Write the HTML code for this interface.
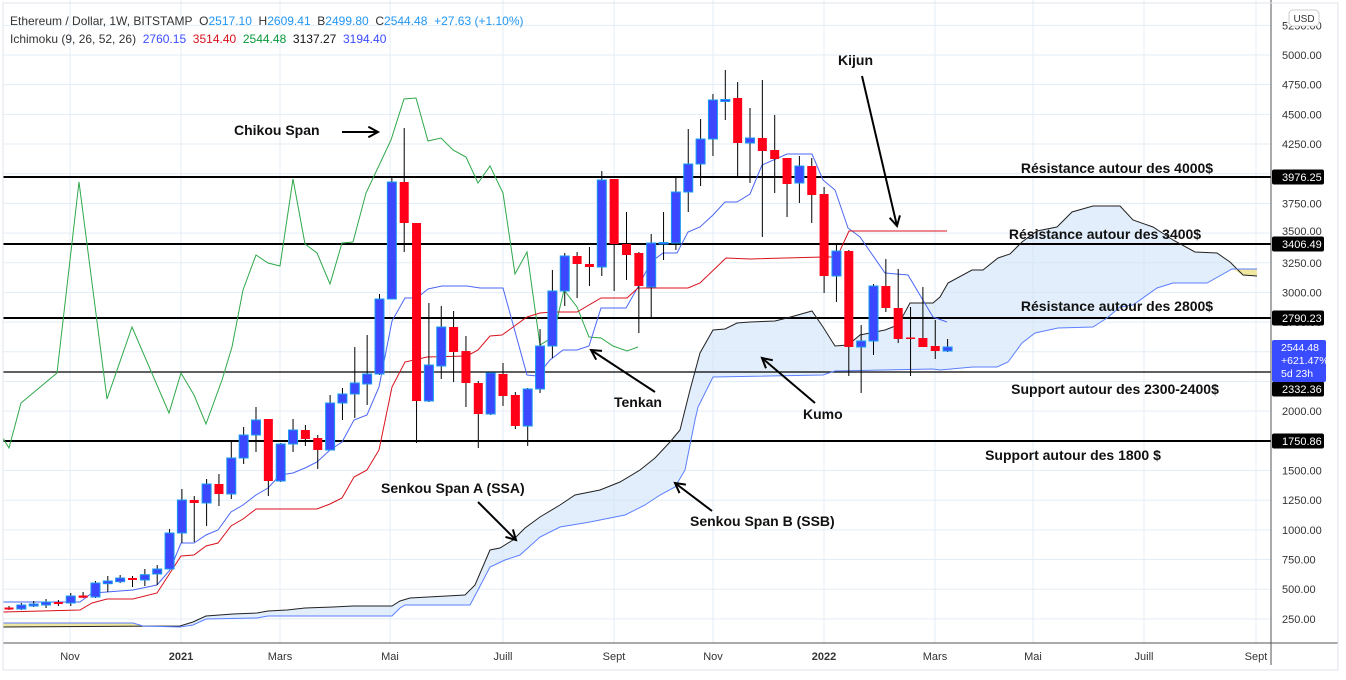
<!DOCTYPE html>
<html><head><meta charset="utf-8">
<style>
html,body{margin:0;padding:0;background:#fff;}
body{width:1346px;height:675px;overflow:hidden;font-family:"Liberation Sans",sans-serif;}
svg text{font-family:"Liberation Sans",sans-serif;}
</style></head>
<body>
<svg id="c" width="1346" height="675" viewBox="0 0 1346 675" xmlns="http://www.w3.org/2000/svg">
<rect x="0" y="0" width="1346" height="675" fill="#fff"/>
<g id="grid" stroke="#e3edf6" stroke-width="1"></g>
<g id="cloud"></g>
<g id="hl"></g>
<g id="lines" fill="none"></g>
<g id="candles"></g>
<g id="ann"></g>
<g id="axis"></g>
</svg>
<script>
var NS="http://www.w3.org/2000/svg";
function el(p,t,a,txt){var e=document.createElementNS(NS,t);for(var k in a)e.setAttribute(k,a[k]);if(txt!==undefined)e.textContent=txt;document.getElementById(p).appendChild(e);return e;}
function Y(p){return 55+(5000-p)*0.11872;}
for(var p=250;p<=5250;p+=250){var y=Y(p);el('grid','line',{x1:3,x2:1271,y1:y,y2:y});}
var months=[[70,'Nov'],[181,'2021'],[280,'Mars'],[390,'Mai'],[503,'Juill'],[614,'Sept'],[713,'Nov'],[824,'2022'],[935,'Mars'],[1033,'Mai'],[1144,'Juill'],[1256,'Sept']];
months.forEach(function(m){el('grid','line',{x1:m[0],x2:m[0],y1:0,y2:643});});
function pts(a){return a.map(function(q){return q[0]+','+q[1];}).join(' ');}
var SSA=[[3,627],[180,626],[193,622],[206,616],[233,614],[257,613],[268,611],[287,610],[305,608],[333,607],[353,606],[392,606],[400,601],[410,598],[465,595],[475,585],[490,550],[500,548],[513,540],[525,528],[540,517],[560,505],[575,495],[600,490],[620,482],[640,470],[655,458],[670,442],[680,430],[690,390],[700,353],[713,330],[725,329],[737,323],[750,322],[775,321],[787,318],[812,311],[823,327],[835,346],[848,345],[860,335],[885,330],[898,325],[910,303],[933,303],[940,297],[948,283],[972,270],[983,270],[998,258],[1010,254],[1022,242],[1037,231],[1057,227],[1072,212],[1093,206],[1120,206],[1133,220],[1153,227],[1173,240],[1195,252],[1217,253],[1230,262],[1243,275],[1257,276]];
var SSB=[[3,623],[133,623],[143,626],[180,627],[193,625],[206,619],[257,618],[268,616],[392,616],[400,608],[405,605],[470,605],[478,590],[490,567],[505,560],[520,555],[540,537],[560,527],[590,522],[625,515],[645,505],[660,495],[675,487],[685,470],[695,420],[698,407],[713,377],[823,375],[835,371],[883,370],[933,369],[940,370],[973,367],[997,367],[1008,362],[1022,343],[1035,333],[1058,328],[1093,327],[1107,318],[1120,307],[1133,305],[1157,288],[1173,283],[1207,283],[1232,269],[1257,269]];
el('cloud','polygon',{points:pts(SSA.concat(SSB.slice().reverse())),fill:'#cfe2f8','fill-opacity':'0.6'});
el('cloud','polygon',{points:'3,623 133,623 143,626 180,627 180,626 3,627',fill:'#f3e58a','fill-opacity':'0.8'});
el('cloud','polygon',{points:'1232,269 1257,269 1257,276 1243,275',fill:'#f3e58a','fill-opacity':'0.8'});
el('lines','polyline',{points:pts(SSA),stroke:'#222','stroke-width':1});
el('lines','polyline',{points:pts(SSB),stroke:'#5b7fff','stroke-width':1});
[[177,2],[244,2],[318,2],[372,1.2],[441,2]].forEach(function(h){el('hl','line',{x1:3,x2:1271,y1:h[0],y2:h[0],stroke:'#000','stroke-width':h[1]});});
var CH=[[3,438],[9,448],[21,403],[57,373],[79,182],[107,399],[132,327],[169,413],[181,373],[194,395],[206,424],[222,380],[232,347],[243,290],[256,255],[268,263],[280,266],[293,179],[305,244],[317,253],[330,284],[342,243],[353,242],[366,193],[391,140],[404,99],[416,98],[428,141],[441,138],[453,150],[466,157],[478,183],[490,166],[503,193],[515,274],[527,252],[540,345],[553,337],[564,290],[577,307],[589,337],[601,338],[613,346],[627,351],[638,347]];
el('lines','polyline',{points:pts(CH),stroke:'#2fa84a','stroke-width':1});
var TK=[[3,602],[80,602],[92,593],[107,592],[133,590],[157,585],[170,570],[181,543],[194,543],[206,535],[218,530],[231,512],[243,505],[256,495],[268,488],[280,475],[293,473],[305,468],[317,462],[330,450],[342,442],[354,420],[367,415],[379,387],[392,321],[405,298],[417,298],[428,289],[442,286],[467,286],[480,288],[503,288],[527,375],[537,376],[550,360],[563,350],[577,350],[589,346],[601,308],[626,308],[638,287],[651,262],[663,253],[677,253],[688,232],[700,227],[713,215],[725,202],[737,202],[750,194],[762,165],[787,154],[812,154],[823,180],[835,190],[848,228],[860,237],[885,273],[908,275],[933,317],[947,322]];
el('lines','polyline',{points:pts(TK),stroke:'#4a66f5','stroke-width':1});
var KJ=[[3,612],[80,610],[92,603],[107,599],[133,599],[157,593],[170,573],[181,556],[194,555],[206,546],[218,543],[231,526],[243,519],[256,509],[317,509],[330,504],[342,498],[354,477],[367,470],[379,450],[392,387],[405,362],[427,357],[467,356],[478,350],[490,336],[502,335],[527,317],[540,313],[552,312],[577,312],[601,298],[627,298],[638,288],[688,288],[700,283],[726,258],[750,259],[823,257],[837,257],[849,231],[947,231]];
el('lines','polyline',{points:pts(KJ),stroke:'#d9111c','stroke-width':1});
var C=[['d',607.5,609.5,606,610],['u',605,609,603,610],['u',604,606,601,607],['u',602,605,599,608],['d',602,604,600,606],['u',596,603,593,606],['d',595.5,597.7,592,598],['u',583,597,581,598],['u',581,583.7,576,592],['u',578,581.7,575,583],['d',578,580,576,587],['u',574.7,580,569,586],['u',569,574,565,585],['u',533,569,529,569],['u',500,533,489,543],['d',500,503,496,542],['u',484,503,479,526],['d',484,494,474,506],['u',458,494,440,499],['u',435,458,427,464],['u',420,435,407,452],['d',419,481,419,496],['u',444,481,443,482],['u',430,444,419,452],['d',430,439,425,446],['d',438,450,435,469],['u',403,450,395,450],['u',394,403,388,420],['u',383,394,347,418],['u',374,384,335,405],['u',299,374,294,375],['u',182,299,176,299],['d',182,223,128,252],['d',223,401,223,443],['u',365,401,303,402],['u',327,366,306,379],['d',327,352,311,382],['d',351,383,336,407],['d',383,414,381,448],['u',373,414,373,415],['d',374,396,363,406],['d',395,426,392,429],['u',389,426,388,446],['u',346,389,329,393],['u',291,346,270,358],['u',256,291,253,306],['d',256,264,252,298],['d',264,267,247,286],['u',180,267,171,276],['d',179,244,179,291],['d',244,255,212,280],['d',253,286,252,333],['u',243,287,234,317],['u',242.5,244,212,260],['u',192,243,177,250],['u',164,192,129,212],['u',139,164,119,186],['u',100,139,94,156],['u',99.5,101.5,70,120],['d',98,143,82,178],['u',138,143,108,183],['d',138,151,80,237],['d',150,159,115,193],['d',158,184,158,217],['u',166,183,156,203],['d',166,195,158,223],['d',194,276,187,293],['u',251,276,244,302],['d',251,347,250,376],['u',341,347,325,393],['u',286,341,284,355],['d',286,308,259,312],['d',308,339,269,343],['d',337.5,339,307,376],['d',338,347,287,347],['d',346,351,320,359],['u',347,351,339,352]];
C.forEach(function(c,i){var x=9+12.35*i;
 el('candles','line',{x1:x,x2:x,y1:c[3],y2:c[4],stroke:'#000','stroke-width':1});
 var h=Math.max(c[2]-c[1],1.5);
 if(c[0]=='u') el('candles','rect',{x:x-4.5,y:c[1],width:9,height:h,fill:'#3b48ff',stroke:'#1a9bf0','stroke-width':1});
 else el('candles','rect',{x:x-4.5,y:c[1],width:9,height:h,fill:'#ff0018'});
});
var A=[[234,135,'Chikou Span','start'],[838,65,'Kijun','start'],[614,407,'Tenkan','start'],[803,419,'Kumo','start'],[381,493,'Senkou Span A (SSA)','start'],[690,526,'Senkou Span B (SSB)','start'],[1117,173,'Résistance autour des 4000$','middle'],[1105,239,'Résistance autour des 3400$','middle'],[1117,311,'Résistance autour des 2800$','middle'],[1115,394,'Support autour des 2300-2400$','middle'],[1073,460,'Support autour des 1800 $','middle']];
A.forEach(function(a){el('ann','text',{x:a[0],y:a[1],'font-size':14,'font-weight':'bold','fill':'#111','text-anchor':a[3]},a[2]);});
function arrow(x1,y1,x2,y2){el('ann','line',{x1:x1,y1:y1,x2:x2,y2:y2,stroke:'#000','stroke-width':2});
 var ang=Math.atan2(y2-y1,x2-x1),L=11,s=0.5;
 el('ann','polyline',{points:(x2-L*Math.cos(ang-s))+','+(y2-L*Math.sin(ang-s))+' '+x2+','+y2+' '+(x2-L*Math.cos(ang+s))+','+(y2-L*Math.sin(ang+s)),fill:'none',stroke:'#000','stroke-width':2});}
arrow(342,132,378,132);arrow(862,76,897,226);arrow(655,392,591,350);arrow(815,403,762,358);arrow(478,502,516,540);arrow(712,511,675,483);
el('axis','line',{x1:1271,x2:1271,y1:0,y2:665,stroke:'#555','stroke-width':1});
el('axis','line',{x1:3,x2:1338,y1:643,y2:643,stroke:'#555','stroke-width':1});
el('axis','rect',{x:3,y:3,width:1335,height:667,fill:'none',stroke:'#e0e3eb','stroke-width':1});
for(var p=250;p<=5250;p+=250){if(p==3500||p==2250||p==1750)continue;el('axis','text',{x:1282,y:Y(p)+4,'font-size':11,fill:'#333'},p.toFixed(2));}
el('axis','text',{x:1282,y:Y(3500)+2,'font-size':11,fill:'#333'},'3500.00');
months.forEach(function(m){el('axis','text',{x:m[0],y:660,'font-size':11,fill:'#333','text-anchor':'middle','font-weight':m[1].length==4&&m[1][0]=='2'?'bold':'normal'},m[1]);});
el('axis','rect',{x:1289,y:10,width:30,height:16,rx:4,fill:'#fff',stroke:'#ccc'});
el('axis','text',{x:1304,y:22,'font-size':10,fill:'#333','text-anchor':'middle'},'USD');
[[177,'3976.25'],[244,'3406.49'],[318,'2790.23'],[389,'2332.36'],[441,'1750.86']].forEach(function(b){el('axis','rect',{x:1272,y:b[0]-7.5,width:52,height:15,rx:2,fill:'#000'});el('axis','text',{x:1282,y:b[0]+4,'font-size':11,fill:'#fff'},b[1]);});
el('axis','rect',{x:1272,y:340,width:54,height:42,rx:2,fill:'#3a4cff'});
el('axis','text',{x:1281,y:351,'font-size':10.5,fill:'#fff'},'2544.48');
el('axis','text',{x:1281,y:364,'font-size':10.5,fill:'#fff'},'+621.47%');
el('axis','text',{x:1281,y:377,'font-size':10.5,fill:'#fff'},'5d 23h');
</script>
<div style="position:absolute;left:10px;top:12px;font-size:12px;color:#333;line-height:18px;white-space:nowrap;font-family:'Liberation Sans',sans-serif;">
<div>Ethereum / Dollar, 1W, BITSTAMP&nbsp; O<span style="color:#2196f3">2517.10</span>&nbsp; H<span style="color:#2196f3">2609.41</span>&nbsp; B<span style="color:#2196f3">2499.80</span>&nbsp; C<span style="color:#2196f3">2544.48</span>&nbsp; <span style="color:#2196f3">+27.63 (+1.10%)</span></div>
<div>Ichimoku (9, 26, 52, 26)&nbsp; <span style="color:#3a4cff">2760.15</span>&nbsp; <span style="color:#d5121c">3514.40</span>&nbsp; <span style="color:#0a9a3c">2544.48</span>&nbsp; <span style="color:#111">3137.27</span>&nbsp; <span style="color:#3a4cff">3194.40</span></div>
</div>
</body></html>
